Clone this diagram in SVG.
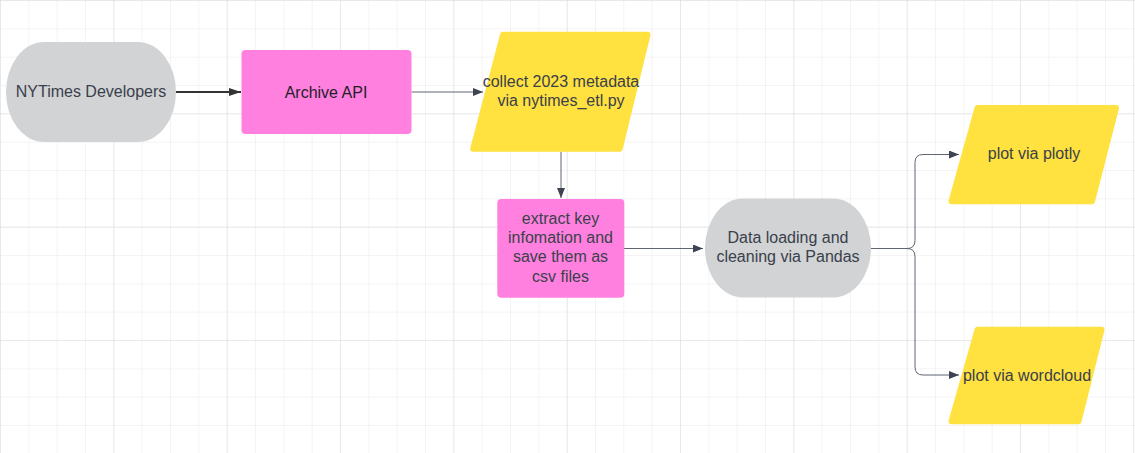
<svg xmlns="http://www.w3.org/2000/svg" width="1135" height="453" viewBox="0 0 1135 453">
  <defs>
    <pattern id="grid" width="28.3333" height="28.3333" patternUnits="userSpaceOnUse">
      <path d="M 28.3333 0 L 0 0 0 28.3333" fill="none" stroke="#e9e9e9" stroke-width="1"/>
    </pattern>
    <pattern id="gridMajor" width="113.3333" height="113.3333" patternUnits="userSpaceOnUse">
      <path d="M 113.3333 0 L 0 0 0 113.3333" fill="none" stroke="#dcdcdc" stroke-width="1"/>
    </pattern>
    <marker id="arr" viewBox="0 0 10 8" refX="10" refY="4" markerWidth="10" markerHeight="8" markerUnits="userSpaceOnUse" orient="auto">
      <path d="M0 0 L10 4 L0 8 Z" fill="#3d4350"/>
    </marker>
    <marker id="arrBig" viewBox="0 0 12 8" refX="12" refY="4" markerWidth="12" markerHeight="8" markerUnits="userSpaceOnUse" orient="auto">
      <path d="M0 0 L12 4 L0 8 Z" fill="#333333"/>
    </marker>
  </defs>
  <style>
    .lbl { font-family: "Liberation Sans", Arial, sans-serif; font-size: 16px; fill: #3a404b; text-anchor: middle; }
    .dark { fill: #1e1e28; }
    .pink { fill: #ff80df; }
    .gray { fill: #d1d3d5; }
    .yellow { fill: #ffe13f; stroke: #ffe13f; stroke-width: 6; stroke-linejoin: round; }
    .conn { fill: none; stroke: #5f6571; stroke-width: 1; }
  </style>
  <rect width="1135" height="453" fill="#ffffff"/>
  <rect width="1135" height="453" fill="url(#grid)"/>
  <rect width="1135" height="453" fill="url(#gridMajor)"/>

  <g id="connectors">
    <path d="M176 92 L241 92" fill="none" stroke="#333333" stroke-width="2" marker-end="url(#arrBig)"/>
    <path class="conn" d="M411.5 92 L483 92" marker-end="url(#arr)"/>
    <path class="conn" d="M561 152 L561 198" marker-end="url(#arr)"/>
    <path class="conn" d="M624 248.5 L703 248.5" marker-end="url(#arr)"/>
    <path class="conn" d="M871 248.5 L907 248.5 Q915 248.5 915 240.5 L915 162.5 Q915 154.5 923 154.5 L959 154.5" marker-end="url(#arr)"/>
    <path class="conn" d="M907 248.5 Q915 248.5 915 256.5 L915 367 Q915 375 923 375 L959 375" marker-end="url(#arr)"/>
  </g>

  <g id="nytimes-developers">
    <rect class="gray" x="6" y="42" width="170" height="100" rx="38" ry="50"/>
    <text class="lbl" x="91" y="96.5">NYTimes Developers</text>
  </g>

  <g id="archive-api">
    <rect class="pink" x="241.5" y="50" width="170" height="84" rx="4"/>
    <text class="lbl dark" x="326" y="97.5">Archive API</text>
  </g>

  <g id="collect-metadata">
    <polygon class="yellow" points="503,34.7 647.5,34.7 619.7,148.7 473.2,148.7"/>
    <text class="lbl" x="561" y="86.5">collect 2023 metadata</text>
    <text class="lbl" x="561" y="105.5">via nytimes_etl.py</text>
  </g>

  <g id="extract-key-info">
    <rect class="pink" x="497.3" y="199" width="127" height="98.7" rx="4"/>
    <text class="lbl" x="560.5" y="224">extract key</text>
    <text class="lbl" x="560.5" y="243">infomation and</text>
    <text class="lbl" x="560.5" y="262">save them as</text>
    <text class="lbl" x="560.5" y="281.5">csv files</text>
  </g>

  <g id="data-loading">
    <rect class="gray" x="705" y="198.5" width="166" height="99" rx="38" ry="49.5"/>
    <text class="lbl" x="788" y="242.5">Data loading and</text>
    <text class="lbl" x="788" y="261.5">cleaning via Pandas</text>
  </g>

  <g id="plot-plotly">
    <polygon class="yellow" points="977.5,108 1116,108 1092,201.3 951.5,201.3"/>
    <text class="lbl" x="1034" y="159">plot via plotly</text>
  </g>

  <g id="plot-wordcloud">
    <polygon class="yellow" points="977.5,329.7 1101.5,329.7 1078.5,421.3 951.5,421.3"/>
    <text class="lbl" x="1027" y="380.5">plot via wordcloud</text>
  </g>
</svg>
